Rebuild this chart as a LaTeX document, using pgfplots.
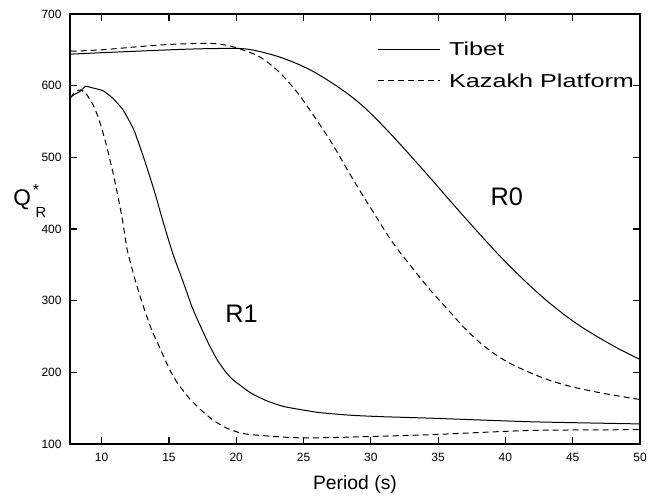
\documentclass[border=0pt]{standalone}
\usepackage{fontspec}
\setmainfont{Liberation Sans}
\newfontfamily\legfont[FakeStretch=1.35]{Liberation Sans}
\usepackage{pgfplots}
\pgfplotsset{compat=1.18}

\begin{document}
\begin{tikzpicture}
\begin{axis}[
  scale only axis,
  width=427.5pt, height=322.5pt,
  xmin=7.65, xmax=50, ymin=100, ymax=700,
  xtick={10,15,...,50},
  ytick={100,200,...,700},
  tick align=inside,
  major tick length=5pt,
  tick style={black, line width=0.9pt},
  axis background/.style={draw=black, line width=0.8pt},
  tick label style={font=\fontsize{9}{10}\selectfont},
  /pgf/number format/assume math mode=true,
  xticklabel style={yshift=-3.5pt},
  yticklabel style={xshift=-2.8pt},
  xlabel={Period (s)},
  every axis x label/.style={at={(axis description cs:0.5,0)}, anchor=base, yshift=-34.5pt, font=\fontsize{14.5}{16}\selectfont},
  clip mode=individual,
  legend style={at={(axis description cs:0.54,0.934)}, anchor=north west,
    draw=none, fill=none, inner sep=0pt, outer sep=0pt,
    font=\legfont\fontsize{14}{16}\selectfont,
    row sep=13.5pt,
    nodes={inner sep=0pt, text height=10pt, text depth=0pt},
    /tikz/every odd column/.append style={column sep=6.75pt}},
  legend image code/.code={\draw[#1] (0pt,0pt) -- (46pt,0pt);},
  legend cell align=left,
]
% fundamental mode, Tibet
\addplot[black, line width=0.75pt, smooth, tension=0.5] coordinates {
 (7.7,644) (10,646) (12.5,648) (15,650) (17.5,651.5) (20,652) (21,650.5)
 (22.1,646) (23.3,639.5) (24.6,630) (25.8,619) (27.1,604) (28.4,587)
 (29.5,570) (30.7,548) (32.0,522) (33.2,497) (34.5,469.5) (36.0,437)
 (37.7,401) (39.4,366) (40.6,343) (41.9,319.5) (43.1,299.5) (44.4,280)
 (45.6,264) (46.9,249) (48.4,233) (50,218)
};
\addlegendentry{Tibet}
% fundamental mode, Kazakh Platform
\addplot[black, line width=0.75pt, dash pattern=on 4.5pt off 3pt, smooth, tension=0.5] coordinates {
 (7.7,648) (10,650) (12.5,654) (15,657.5) (17.5,659) (18.5,658.5)
 (19.5,655.5) (20.3,651) (21.2,645) (22.1,636) (23.3,617) (24.6,589)
 (25.8,557) (27.1,520) (28.4,478) (29.6,441) (30.5,414) (31.3,390)
 (32.1,369) (32.9,350) (33.7,331) (34.5,313) (35.7,288) (37.0,261)
 (38.2,240) (39.4,223) (40.6,210) (41.9,199) (43.1,190) (44.4,182.5)
 (45.6,177) (46.9,172) (48.4,167) (50,162)
};
\addlegendentry{Kazakh Platform}
% first overtone, Tibet
\addplot[black, line width=0.75pt, smooth, tension=0.3, forget plot] coordinates {
 (7.7,584) (8.0,588) (8.4,592) (8.8,599) (9.3,597) (10.1,593) (10.8,583)
 (11.6,566) (12.4,538) (13.1,501) (13.9,454) (14.6,408) (15.3,365)
 (16.1,324) (16.7,292) (17.35,264) (18.0,238) (18.6,217) (19.2,201)
 (19.8,189) (21.1,171) (22.3,160) (23.6,152) (26.1,144) (28.6,140)
 (31,138) (34.5,136) (41.9,131) (50,128)
};
% first overtone, Kazakh Platform
\addplot[black, line width=0.75pt, dash pattern=on 4.5pt off 3pt, smooth, tension=0.3, forget plot] coordinates {
 (7.7,583) (8.0,591) (8.4,594) (8.8,590) (9.4,572) (9.8,553) (10.3,521)
 (10.9,474) (11.5,418) (11.9,371) (12.5,328) (13.1,292) (13.7,260)
 (14.4,231) (15.0,206) (15.6,186) (16.5,164) (17.35,148) (18.3,133)
 (19.3,122) (20.2,116) (21.1,113) (23.6,109.5) (25,108.5) (27.3,109)
 (30,110.5) (34.5,113) (41.9,119) (50,120)
};
\node[font=\fontsize{19}{20}\selectfont] at (axis cs:40.1,444.7) {R0};
\node[font=\fontsize{19}{20}\selectfont] at (axis cs:20.4,281.8) {R1};
\node[anchor=base west, inner sep=0pt] at (rel axis cs:-0.1,0.5535)
  {\fontsize{17}{17}\selectfont Q\kern1.5pt\rlap{\raisebox{8pt}{\fontsize{12}{12}\selectfont *}}\kern2pt\raisebox{-9pt}{\fontsize{11}{11}\selectfont R}};
\coordinate (sw) at (rel axis cs:0,0);
\coordinate (ne) at (rel axis cs:1,1);
\end{axis}
\pgfresetboundingbox
\path[use as bounding box] ([xshift=-52.5pt,yshift=-43.5pt]sw) rectangle ([xshift=10.5pt,yshift=10.5pt]ne);
\end{tikzpicture}
\end{document}
